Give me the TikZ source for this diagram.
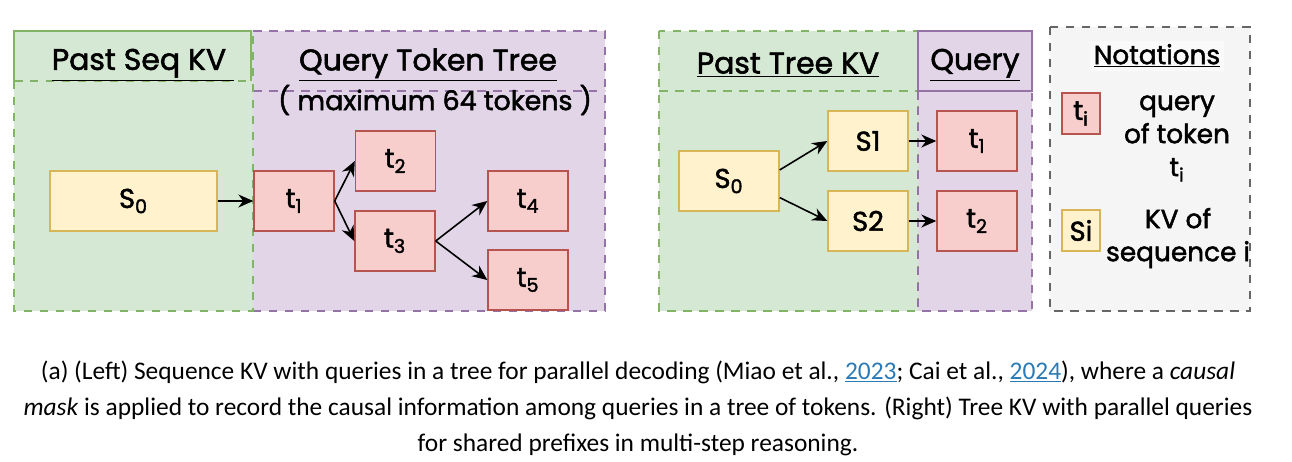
\documentclass[tikz,border=0pt]{standalone}
\usepackage{fontspec}
\setmainfont{Carlito}
\newfontfamily\comic{Poppins}[RawFeature={embolden=1.8}]
\usetikzlibrary{calc,arrows.meta}

\definecolor{grnfill}{HTML}{D5E8D4}
\definecolor{grnline}{HTML}{82B366}
\definecolor{purfill}{HTML}{E1D5E7}
\definecolor{purline}{HTML}{9673A6}
\definecolor{yelfill}{HTML}{FFF2CC}
\definecolor{yelline}{HTML}{D6B656}
\definecolor{redfill}{HTML}{F8CECC}
\definecolor{redline}{HTML}{B85450}
\definecolor{gryfill}{HTML}{F5F5F5}
\definecolor{gryline}{HTML}{666666}
\definecolor{linkblue}{HTML}{2A7AB5}

\begin{document}
\begin{tikzpicture}[
    arr/.style={line width=0.9pt, -{Stealth[length=3mm,width=2.6mm]}},
    dsh/.style={line width=0.8pt, dash pattern=on 0.17cm off 0.15cm},
    tok/.style={fill=redfill, draw=redline, line width=0.8pt, minimum width=1.6cm,
        minimum height=1.2cm, font=\comic\fontsize{15.5}{18}\selectfont},
    kv/.style={tok, fill=yelfill, draw=yelline},
    ttl/.style={font=\comic\fontsize{17}{20}\selectfont},
    lgd/.style={font=\comic\fontsize{15}{18.8}\selectfont, align=center},
  ]
  \useasboundingbox (0,0) rectangle (25.84,-9.24);

  % left: sequence kv + token tree
  \fill[grnfill] (0.28,-0.62) rectangle (5.06,-6.22);
  \fill[purfill] (5.06,-0.62) rectangle (12.1,-6.22);
  \draw[purline, dsh] (5.06,-0.62) -| (12.1,-6.22) -- (5.06,-6.22);
  \draw[purline, dsh] (5.06,-1.82) -- (12.1,-1.82);
  \draw[grnline, dsh] (0.28,-1.62) -- (0.28,-6.22) -- (5.06,-6.22) -- (5.06,-0.62);
  \draw[grnline, dsh] (0.28,-1.62) -- (5.06,-1.62);
  \draw[grnline, line width=0.8pt] (0.28,-1.62) |- (5.02,-0.62) -- (5.02,-1.62);

  \node[ttl] (seqttl) at (2.86,-1.3) {\underline{Past Seq KV\ }};
  \node[ttl] (treettl) at (8.56,-1.3) {\underline{Query Token Tree}};
  \node[ttl, font=\comic\fontsize{15.3}{18}\selectfont] (maxttl) at (8.7,-2.0) {( maximum 64 tokens )};

  \node[kv, minimum width=3.34cm] (s0) at (2.67,-4.02) {S\textsubscript{0}};
  \node[tok] (t1) at (5.88,-4.02) {t\textsubscript{1}};
  \node[tok] (t2) at (7.91,-3.22) {t\textsubscript{2}};
  \node[tok] (t3) at (7.9,-4.82) {t\textsubscript{3}};
  \node[tok] (t4) at (10.56,-4.02) {t\textsubscript{4}};
  \node[tok] (t5) at (10.56,-5.6) {t\textsubscript{5}};

  \draw[arr] (s0) -- (t1);
  \foreach \a/\b in {t1/t2, t1/t3, t3/t4, t3/t5} {
      \draw[arr] (\a.east) -- (\b.west);
    }

  % right: tree kv + parallel queries
  \fill[grnfill] (13.18,-0.62) rectangle (18.36,-6.22);
  \fill[purfill] (18.36,-0.62) rectangle (20.64,-6.22);
  \draw[grnline, dsh] (13.18,-0.62) rectangle (18.36,-6.22);
  \draw[grnline, dsh] (13.18,-1.82) -- (18.36,-1.82);
  \draw[purline, dsh] (18.36,-1.82) -- (18.36,-6.22) -- (20.64,-6.22) -- (20.64,-1.82);
  \draw[purline, line width=0.8pt] (18.36,-0.62) rectangle (20.64,-1.82);

  \node[ttl] (pastttl) at (15.76,-1.3) {\underline{Past Tree KV}};
  \node[ttl] (qryttl) at (19.5,-1.3) {\underline{Query}};

  \node[kv, minimum width=2cm] (rs0) at (14.58,-3.62) {S\textsubscript{0}};
  \node[kv] (s1) at (17.36,-2.82) {S1};
  \node[kv] (s2) at (17.36,-4.42) {S2};
  \node[tok] (rt1) at (19.54,-2.82) {t\textsubscript{1}};
  \node[tok] (rt2) at (19.54,-4.42) {t\textsubscript{2}};

  \draw[arr] ($(rs0.north east)!.32!(rs0.south east)$) -- (s1.west);
  \draw[arr] ($(rs0.north east)!.77!(rs0.south east)$) -- (s2.west);
  \foreach \i in {1,2} {
      \draw[arr] (s\i) -- (rt\i);
    }

  % notations
  \draw[gryline, fill=gryfill, dsh] (21.0,-0.54) rectangle (25.0,-6.22);
  \node[ttl, font=\comic\fontsize{15}{18}\selectfont, fill=black!2, inner sep=2pt] (notttl) at (23.14,-1.12) {\underline{Notations}};
  \node[tok, minimum width=0.76cm, minimum height=0.82cm, inner sep=1pt] (tlgd) at (21.62,-2.27) {t\textsubscript{i}};
  \node[kv, minimum width=0.76cm, minimum height=0.82cm, inner sep=1pt] (slgd) at (21.62,-4.61) {Si};
  \node[lgd] (tdesc) at (23.54,-2.77) {query\\of token\\t\textsubscript{i}};
  \node[lgd] (sdesc) at (23.56,-4.76) {KV of\\sequence i};

  % caption
  \node[align=center, font=\fontsize{14.45}{20.5}\selectfont] (cap) at (12.76,-8.16)
    {(a) (Left) Sequence KV with queries in a tree for parallel decoding (Miao et al., {\color{linkblue}\underline{2023}}; Cai et al., {\color{linkblue}\underline{2024}}), where a \textit{causal}\\
     \textit{mask} is applied to record the causal information among queries in a tree of tokens. (Right) Tree KV with parallel queries\\
     for shared prefixes in multi-step reasoning.};
\end{tikzpicture}
\end{document}
